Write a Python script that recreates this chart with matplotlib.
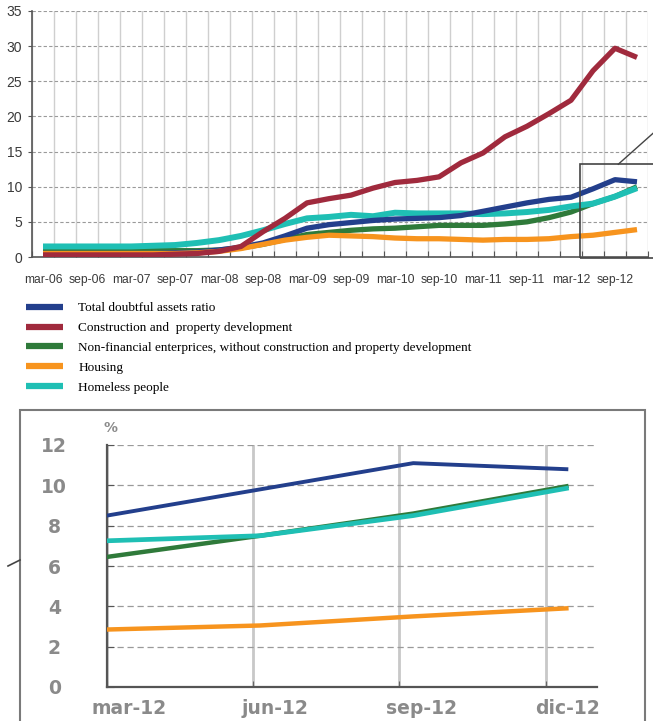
import matplotlib
matplotlib.use("Agg")
import matplotlib.pyplot as plt
import numpy as np
from matplotlib import font_manager
from matplotlib.patches import Rectangle
from matplotlib.lines import Line2D
from matplotlib.transforms import ScaledTranslation

# ---------------- data ----------------
quarters = ["mar-06", "jun-06", "sep-06", "dic-06", "mar-07", "jun-07", "sep-07", "dic-07",
            "mar-08", "jun-08", "sep-08", "dic-08", "mar-09", "jun-09", "sep-09", "dic-09",
            "mar-10", "jun-10", "sep-10", "dic-10", "mar-11", "jun-11", "sep-11", "dic-11",
            "mar-12", "jun-12", "sep-12", "dic-12"]
total = [0.5, 0.5, 0.5, 0.5, 0.5, 0.5, 0.6, 0.7, 1.0, 1.4, 2.0, 3.0, 4.1, 4.6, 4.9, 5.2,
         5.4, 5.5, 5.6, 5.9, 6.5, 7.1, 7.7, 8.2, 8.5, 9.7, 11.0, 10.7]
construction = [0.3, 0.3, 0.3, 0.3, 0.3, 0.3, 0.4, 0.5, 0.8, 1.5, 3.6, 5.5, 7.7, 8.3, 8.8, 9.8,
                10.6, 10.9, 11.4, 13.4, 14.8, 17.1, 18.6, 20.4, 22.3, 26.5, 29.7, 28.4]
nonfin = [0.9, 0.9, 0.9, 0.9, 0.9, 0.9, 0.9, 0.9, 1.0, 1.3, 1.8, 2.5, 3.2, 3.5, 3.8, 4.0,
          4.1, 4.3, 4.5, 4.5, 4.5, 4.7, 5.0, 5.6, 6.4, 7.6, 8.6, 10.0]
housing = [0.5, 0.5, 0.5, 0.5, 0.5, 0.5, 0.5, 0.6, 0.8, 1.2, 1.8, 2.4, 2.8, 3.1, 3.0, 2.9,
           2.7, 2.6, 2.6, 2.5, 2.4, 2.5, 2.5, 2.6, 2.9, 3.1, 3.5, 3.9]
homeless = [1.5, 1.5, 1.5, 1.5, 1.5, 1.6, 1.7, 2.0, 2.4, 3.0, 3.8, 4.7, 5.5, 5.7, 6.0, 5.8,
            6.3, 6.2, 6.2, 6.2, 6.1, 6.2, 6.4, 6.7, 7.2, 7.6, 8.6, 9.8]
yticks_main = [0, 5, 10, 15, 20, 25, 30, 35]

zoom_labels = ["mar-12", "jun-12", "sep-12", "dic-12"]
z_total = [8.5, 9.8, 11.1, 10.8]
z_nonfin = [6.45, 7.5, 8.6, 9.95]
z_homeless = [7.25, 7.5, 8.5, 9.85]
z_housing = [2.85, 3.05, 3.5, 3.9]
yticks_zoom = [0, 2, 4, 6, 8, 10, 12]

series_names = ["Total doubtful assets ratio",
                "Construction and  property development",
                "Non-financial enterprices, without construction and property development",
                "Housing",
                "Homeless people"]
colors = {"total": "#233f8c", "constr": "#a02a3d", "nonfin": "#2f7a3a",
          "housing": "#f7941e", "homeless": "#1fbfb4"}

# ---------------- fonts ----------------
avail = {f.name for f in font_manager.fontManager.ttflist}
narrow = "Liberation Sans Narrow" if "Liberation Sans Narrow" in avail else "Liberation Sans"

W, H = 653, 721
fig = plt.figure(figsize=(W / 100, H / 100), dpi=100)
fig.patch.set_facecolor("white")


def fx(px):
    return px / W


def fy(py):
    return 1 - py / H


# ---------------- main chart ----------------
ax = fig.add_axes([fx(32), fy(257), fx(648) - fx(32), fy(11) - fy(257)])
x = np.arange(len(quarters))
ax.plot(x, nonfin, color=colors["nonfin"], lw=3.8, solid_capstyle="butt", zorder=3)
ax.plot(x, homeless, color=colors["homeless"], lw=4.3, solid_capstyle="butt", zorder=3)
ax.plot(x, total, color=colors["total"], lw=3.8, solid_capstyle="butt", zorder=4)
ax.plot(x, housing, color=colors["housing"], lw=3.8, solid_capstyle="butt", zorder=4)
ax.plot(x, construction, color=colors["constr"], lw=3.8, solid_capstyle="butt", zorder=5)

ax.set_xlim(-0.5, len(quarters) - 0.5)
ax.set_ylim(0, 35)
ax.set_xticks(np.arange(-0.5, len(quarters), 1.0))
ax.set_xticklabels([])
ax.set_xticks(x[::2], minor=True)
ax.set_xticklabels(quarters[::2], minor=True)
ax.tick_params(axis="x", which="major", direction="in", length=4, color="#555")
ax.tick_params(axis="x", which="minor", length=0, pad=12, labelsize=8.7, labelcolor="#3a3a3a")
for t in ax.get_xticklabels(minor=True):
    t.set_family(narrow)
ax.set_yticks(yticks_main)
ax.tick_params(axis="y", direction="out", length=3, pad=4, labelsize=10, labelcolor="#3a3a3a", color="#555")
for t in ax.get_yticklabels():
    t.set_family(narrow)
ax.grid(axis="x", which="major", color="#cfcfcf", lw=1.0, ls="-")
ax.grid(axis="y", color="#9a9a9a", lw=0.8, ls=(0, (3, 2)))
ax.set_axisbelow(True)
for s in ["top", "right"]:
    ax.spines[s].set_visible(False)
for s in ["left", "bottom"]:
    ax.spines[s].set_color("#555")
    ax.spines[s].set_linewidth(1.2)

# zoom rectangle and connector
ax.add_patch(Rectangle((24.4, -0.1), 4.0, 13.3, fill=False, ec="#444", lw=1.2,
                       clip_on=False, zorder=6))
ax.add_line(Line2D([26.15, 27.8], [13.2, 17.8], color="#444", lw=1.0, clip_on=False, zorder=6))

# ---------------- legend ----------------
handles = [Line2D([], [], color=colors[k], lw=4.5, solid_capstyle="butt")
           for k in ["total", "constr", "nonfin", "housing", "homeless"]]
leg = fig.legend(handles, series_names, loc="upper left", bbox_to_anchor=(fx(26), fy(302)),
                 frameon=False, borderpad=0, borderaxespad=0, handlelength=2.8,
                 handletextpad=1.15, labelspacing=0.58,
                 prop={"family": "Liberation Serif", "size": 9.5})

# ---------------- zoomed chart ----------------
fig.add_artist(Rectangle((fx(20), fy(730)), fx(645) - fx(20), fy(410) - fy(730),
                         transform=fig.transFigure, fill=False, ec="#7a7a7a", lw=1.5))
fig.add_artist(Line2D([fx(8), fx(20)], [fy(566), fy(560)], transform=fig.transFigure,
                      color="#444", lw=1.2))

az = fig.add_axes([fx(107), fy(687), fx(597) - fx(107), fy(445) - fy(687)])
xz = np.arange(len(zoom_labels))
az.plot(xz, z_housing, color=colors["housing"], lw=3.2, zorder=3)
az.plot(xz, z_nonfin, color=colors["nonfin"], lw=3.2, zorder=3)
az.plot(xz, z_homeless, color=colors["homeless"], lw=3.4, zorder=4)
az.plot(xz, z_total, color=colors["total"], lw=2.8, zorder=4)
az.set_xlim(0, 3.2)
az.set_ylim(0, 12)
grid_pos = xz * 0.955
az.set_xticks(grid_pos)
az.set_xticklabels(zoom_labels)
az.tick_params(axis="x", direction="in", length=4, pad=9, labelsize=13.5, labelcolor="#8a8a8a",
               color="#666")
off = ScaledTranslation(22 / 100, 0, fig.dpi_scale_trans)
for t in az.get_xticklabels():
    t.set_transform(t.get_transform() + off)
    t.set_fontweight("bold")
az.set_yticks(yticks_zoom)
az.tick_params(axis="y", direction="in", length=5, pad=38, labelsize=13.5, labelcolor="#8a8a8a",
               color="#555")
for t in az.get_yticklabels():
    t.set_fontweight("bold")
    t.set_horizontalalignment("center")
az.grid(axis="x", color="#c8c8c8", lw=2.0, ls="-")
az.grid(axis="y", color="#9a9a9a", lw=0.9, ls=(0, (5, 3)))
az.set_axisbelow(True)
for s in ["top", "right"]:
    az.spines[s].set_visible(False)
for s in ["left", "bottom"]:
    az.spines[s].set_color("#555")
    az.spines[s].set_linewidth(1.6)
fig.text(fx(110), fy(428), "%", fontsize=10, color="#8a8a8a", fontweight="bold",
         ha="center", va="center")

fig.savefig("out.png", dpi=100, facecolor="white")
